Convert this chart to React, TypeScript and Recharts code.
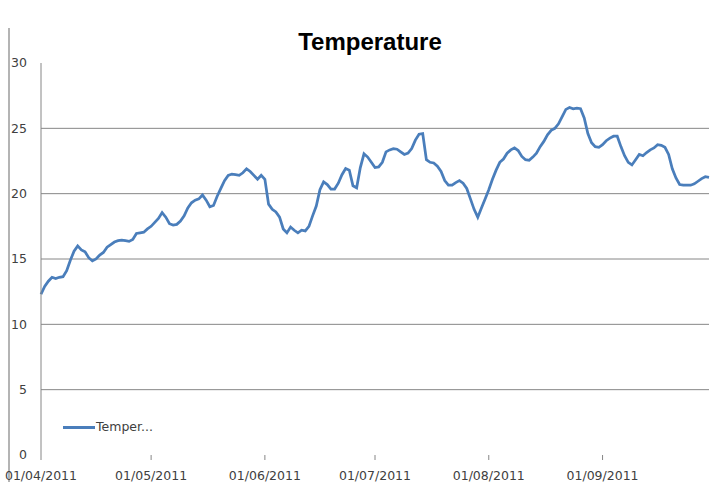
import { LineChart, Line, XAxis, YAxis, ReferenceLine } from 'recharts';

// daily mean temperature, 1 Apr 2011 - 30 Sep 2011
const april = [12.3, 12.9, 13.3, 13.6, 13.5, 13.6, 13.65, 14.1, 14.9, 15.6, 16.0, 15.7, 15.55, 15.1, 14.85, 15.0, 15.3, 15.5, 15.9, 16.1, 16.3, 16.4, 16.45, 16.4, 16.35, 16.5, 16.95, 17.0, 17.05, 17.3];
const may = [17.5, 17.8, 18.1, 18.55, 18.2, 17.7, 17.6, 17.65, 17.9, 18.3, 18.9, 19.3, 19.5, 19.6, 19.9, 19.5, 19.0, 19.1, 19.8, 20.4, 21.0, 21.4, 21.5, 21.45, 21.4, 21.6, 21.9, 21.7, 21.4, 21.1, 21.4];
const june = [21.1, 19.2, 18.8, 18.6, 18.2, 17.3, 17.0, 17.45, 17.2, 17.0, 17.2, 17.15, 17.5, 18.3, 19.05, 20.3, 20.9, 20.7, 20.35, 20.35, 20.8, 21.45, 21.93, 21.8, 20.6, 20.45, 22.0, 23.05, 22.8, 22.4];
const july = [22.0, 22.05, 22.4, 23.2, 23.35, 23.45, 23.4, 23.2, 23.0, 23.1, 23.45, 24.1, 24.55, 24.6, 22.6, 22.4, 22.35, 22.1, 21.7, 21.0, 20.65, 20.65, 20.85, 21.0, 20.8, 20.4, 19.6, 18.8, 18.2, 18.9, 19.6];
const august = [20.3, 21.1, 21.8, 22.4, 22.65, 23.1, 23.35, 23.5, 23.3, 22.85, 22.6, 22.55, 22.8, 23.1, 23.6, 24.0, 24.5, 24.85, 25.0, 25.35, 25.9, 26.45, 26.6, 26.5, 26.55, 26.5, 25.8, 24.6, 23.9, 23.6, 23.55];
const september = [23.75, 24.05, 24.25, 24.4, 24.4, 23.6, 22.9, 22.4, 22.2, 22.6, 23.0, 22.9, 23.15, 23.35, 23.5, 23.75, 23.7, 23.55, 23.0, 21.9, 21.2, 20.7, 20.65, 20.65, 20.65, 20.75, 20.95, 21.15, 21.3, 21.25];

const monthTicks = [0, 30, 61, 91, 122, 153]; // day index of the 1st of each month
const monthLabels = ['01/04/2011', '01/05/2011', '01/06/2011', '01/07/2011', '01/08/2011', '01/09/2011'];
const yTicks = [0, 5, 10, 15, 20, 25, 30];
const gridValues = [5, 10, 15, 20, 25];

const temps = [...april, ...may, ...june, ...july, ...august, ...september];
const data = temps.map((t, i) => ({ day: i, Temperature: t }));

const BLUE = '#4A7EBB';
const GRID = '#868686';
const TXT = '#404040';
const FONT = '"DejaVu Sans", sans-serif';

const App = () => {
  return (
    <div style={{ position: 'absolute', left: 0, top: 0, width: 720, height: 482, background: '#fff', overflow: 'hidden' }}>
      <div style={{ position: 'absolute', left: 8, top: 28, height: 454, borderLeft: '2px solid #b4b4b4' }} />
      <div
        style={{
          position: 'absolute', left: 0, width: 740, top: 30, textAlign: 'center',
          fontFamily: '"Liberation Sans", Arial, sans-serif', fontWeight: 'bold', fontSize: 24, lineHeight: '24px', color: '#000',
        }}
      >
        Temperature
      </div>
      <LineChart width={720} height={482} data={data} margin={{ top: 63, right: 11, left: 16, bottom: 0 }}>
        <XAxis
          dataKey="day"
          type="number"
          domain={[0, 182]}
          ticks={monthTicks}
          interval={0}
          tickFormatter={(d: number) => monthLabels[monthTicks.indexOf(d)]}
          axisLine={false}
          tickLine={{ stroke: GRID }}
          tickSize={5}
          tickMargin={11}
          height={27}
          tick={{ fill: TXT, fontSize: 12.5, fontFamily: FONT }}
        />
        <YAxis
          domain={[0, 30]}
          ticks={yTicks}
          interval={0}
          width={25}
          axisLine={{ stroke: GRID }}
          tickLine={false}
          tickMargin={8}
          tick={{ fill: TXT, fontSize: 12.5, fontFamily: FONT }}
        />
        {gridValues.map((v) => (
          <ReferenceLine key={v} y={v} stroke={GRID} strokeWidth={1} />
        ))}
        <Line
          type="linear"
          dataKey="Temperature"
          stroke={BLUE}
          strokeWidth={2.75}
          dot={false}
          isAnimationActive={false}
        />
      </LineChart>
      <div
        style={{
          position: 'absolute', left: 63, top: 419, display: 'flex', alignItems: 'center',
          fontFamily: FONT, fontSize: 12.5, color: TXT, lineHeight: '16px',
        }}
      >
        <span style={{ display: 'inline-block', width: 32, height: 3, background: BLUE }} />
        <span style={{ marginLeft: 1 }}>Temper...</span>
      </div>
    </div>
  );
};

export default App;
